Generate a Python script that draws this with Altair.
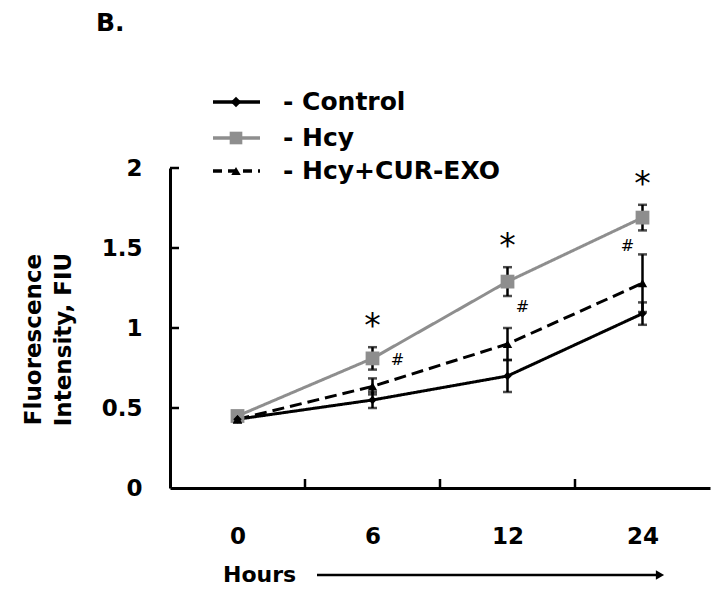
import json
import altair as alt
import pandas as pd

# ---- data ----
hours = ["0", "6", "12", "24"]
series = ["Control", "Hcy", "Hcy+CUR-EXO"]
control = [0.43, 0.55, 0.70, 1.09]
control_err = [0.02, 0.05, 0.10, 0.07]
hcy = [0.45, 0.81, 1.29, 1.69]
hcy_err = [0.02, 0.07, 0.09, 0.08]
cur = [0.43, 0.635, 0.90, 1.28]
cur_err = [0.02, 0.05, 0.10, 0.18]
y_ticks = [0, 0.5, 1, 1.5, 2]
star_hours = ["6", "12", "24"]
hash_hours = ["6", "12", "24"]
hash_values = [0.80, 1.13, 1.51]
hash_dx = [25, 15, -15]

FONT = "DejaVu Sans"
GRAY = "#8e8e8e"
W, H = 540, 320

vals = {"Control": (control, control_err),
        "Hcy": (hcy, hcy_err),
        "Hcy+CUR-EXO": (cur, cur_err)}
rows = []
for s in series:
    v, e = vals[s]
    for i, h in enumerate(hours):
        rows.append({"hour": h, "idx": i, "series": s, "value": v[i],
                     "lo": v[i] - e[i], "hi": v[i] + e[i]})
df = pd.DataFrame(rows)

style = {
    "Control": dict(color="black", dash=[1, 0], shape="diamond", size=70, pcolor="black", lsize=110),
    "Hcy": dict(color=GRAY, dash=[1, 0], shape="square", size=190, pcolor=GRAY, lsize=160),
    "Hcy+CUR-EXO": dict(color="black", dash=[12, 6], shape="triangle-up", size=90, pcolor="black", lsize=90),
}

label_expr = json.dumps(hours) + "[datum.value]"
xscale = alt.Scale(domain=[-0.5, len(hours) - 0.5])
yscale = alt.Scale(domain=[0, 2])

x_axis = alt.Axis(values=list(range(len(hours))), labelExpr=label_expr, ticks=False,
                  grid=False, domainWidth=3, domainColor="black", labelFont=FONT,
                  labelFontSize=23, labelFontWeight="bold", labelColor="black",
                  labelPadding=37, title=None)
y_axis = alt.Axis(values=y_ticks, format="~g", ticks=False, grid=False, domainWidth=3,
                  domainColor="black", labelFont=FONT, labelFontSize=23,
                  labelFontWeight="bold", labelColor="black", labelPadding=28,
                  title=["Fluorescence", "Intensity, FIU"], titleFont=FONT,
                  titleFontSize=23, titleFontWeight="bold", titleColor="black",
                  titleX=-137, titleY=171, titleAlign="center", titleBaseline="middle",
                  titleLineHeight=30, titleAngle=270)


def X(field):
    return alt.X(field, scale=xscale, axis=x_axis)


def Y(field):
    return alt.Y(field, scale=yscale, axis=y_axis)


base = alt.Chart(df)
layers = []

# lines
for s in ["Hcy", "Control", "Hcy+CUR-EXO"]:
    st = style[s]
    layers.append(base.transform_filter(alt.datum.series == s).mark_line(
        color=st["color"], strokeWidth=3, strokeDash=st["dash"]).encode(
        x=X("idx:Q"), y=Y("value:Q")))

# error bars
layers.append(base.mark_rule(color="black", strokeWidth=2.5).encode(
    x=X("idx:Q"), y=Y("lo:Q"), y2="hi:Q"))
for f in ["lo", "hi"]:
    layers.append(base.mark_tick(color="black", orient="horizontal", size=9,
                                 thickness=2.5).encode(x=X("idx:Q"), y=Y(f + ":Q")))

# markers
for s in ["Hcy", "Control", "Hcy+CUR-EXO"]:
    st = style[s]
    layers.append(base.transform_filter(alt.datum.series == s).mark_point(
        shape=st["shape"], size=st["size"], filled=True, color=st["pcolor"],
        opacity=1).encode(x=X("idx:Q"), y=Y("value:Q")))

# inward ticks
ytick_df = pd.DataFrame({"v": [t for t in y_ticks if t > 0]})
layers.append(alt.Chart(ytick_df).mark_rule(color="black", strokeWidth=2.5).encode(
    y=Y("v:Q"), x=alt.value(0), x2=alt.value(9)))
xtick_df = pd.DataFrame({"b": [i + 0.5 for i in range(len(hours) - 1)]})
layers.append(alt.Chart(xtick_df).mark_rule(color="black", strokeWidth=2.5).encode(
    x=X("b:Q"), y=alt.value(H), y2=alt.value(H - 9)))

# significance marks
star_df = df[(df.series == "Hcy") & (df.hour.isin(star_hours))]
layers.append(alt.Chart(star_df).mark_text(text="*", font=FONT, fontSize=33,
                                           color="black", baseline="alphabetic",
                                           dy=-10).encode(x=X("idx:Q"), y=Y("hi:Q")))
for h, v, dx in zip(hash_hours, hash_values, hash_dx):
    hd = pd.DataFrame({"idx": [hours.index(h)], "v": [v]})
    layers.append(alt.Chart(hd).mark_text(text="#", font=FONT, fontSize=16,
                                          color="black", dx=dx).encode(
        x=X("idx:Q"), y=Y("v:Q")))

# legend (drawn at top-left)
one = pd.DataFrame({"a": [0]})
leg_y = [-66, -30, 3]
for s, yy in zip(series, leg_y):
    st = style[s]
    ldash = [9, 6] if s == "Hcy+CUR-EXO" else [1, 0]
    layers.append(alt.Chart(one).mark_rule(color=st["color"], strokeWidth=3.5,
                                           strokeDash=ldash).encode(
        x=alt.value(43), x2=alt.value(90), y=alt.value(yy)))
    layers.append(alt.Chart(one).mark_point(shape=st["shape"],
                                            size=st["lsize"], filled=True,
                                            color=st["pcolor"], opacity=1).encode(
        x=alt.value(66), y=alt.value(yy)))
    layers.append(alt.Chart(one).mark_text(text="- " + s, font=FONT, fontSize=25,
                                           fontWeight="bold", color="black",
                                           align="left", baseline="middle").encode(
        x=alt.value(113), y=alt.value(yy)))

# panel label
layers.append(alt.Chart(one).mark_text(text="B.", font=FONT, fontSize=25,
                                       fontWeight="bold", color="black",
                                       align="left", baseline="middle").encode(
    x=alt.value(-74), y=alt.value(-145)))

# Hours + arrow
layers.append(alt.Chart(one).mark_text(text="Hours", font=FONT, fontSize=22,
                                       fontWeight="bold", color="black",
                                       align="left", baseline="middle").encode(
    x=alt.value(53), y=alt.value(407)))
layers.append(alt.Chart(one).mark_rule(color="black", strokeWidth=2.5).encode(
    x=alt.value(147), x2=alt.value(490), y=alt.value(407)))
layers.append(alt.Chart(one).mark_point(shape="triangle-right", size=90, filled=True,
                                        color="black", opacity=1).encode(
    x=alt.value(490), y=alt.value(407)))

chart = alt.layer(*layers).properties(
    width=W, height=H,
    background="white",
    autosize=alt.AutoSizeParams(type="none"),
    padding={"left": 162, "top": 160, "right": 10, "bottom": 100},
).configure_view(stroke=None)

chart.save("out.html", embed_options={"renderer": "svg", "actions": False})
